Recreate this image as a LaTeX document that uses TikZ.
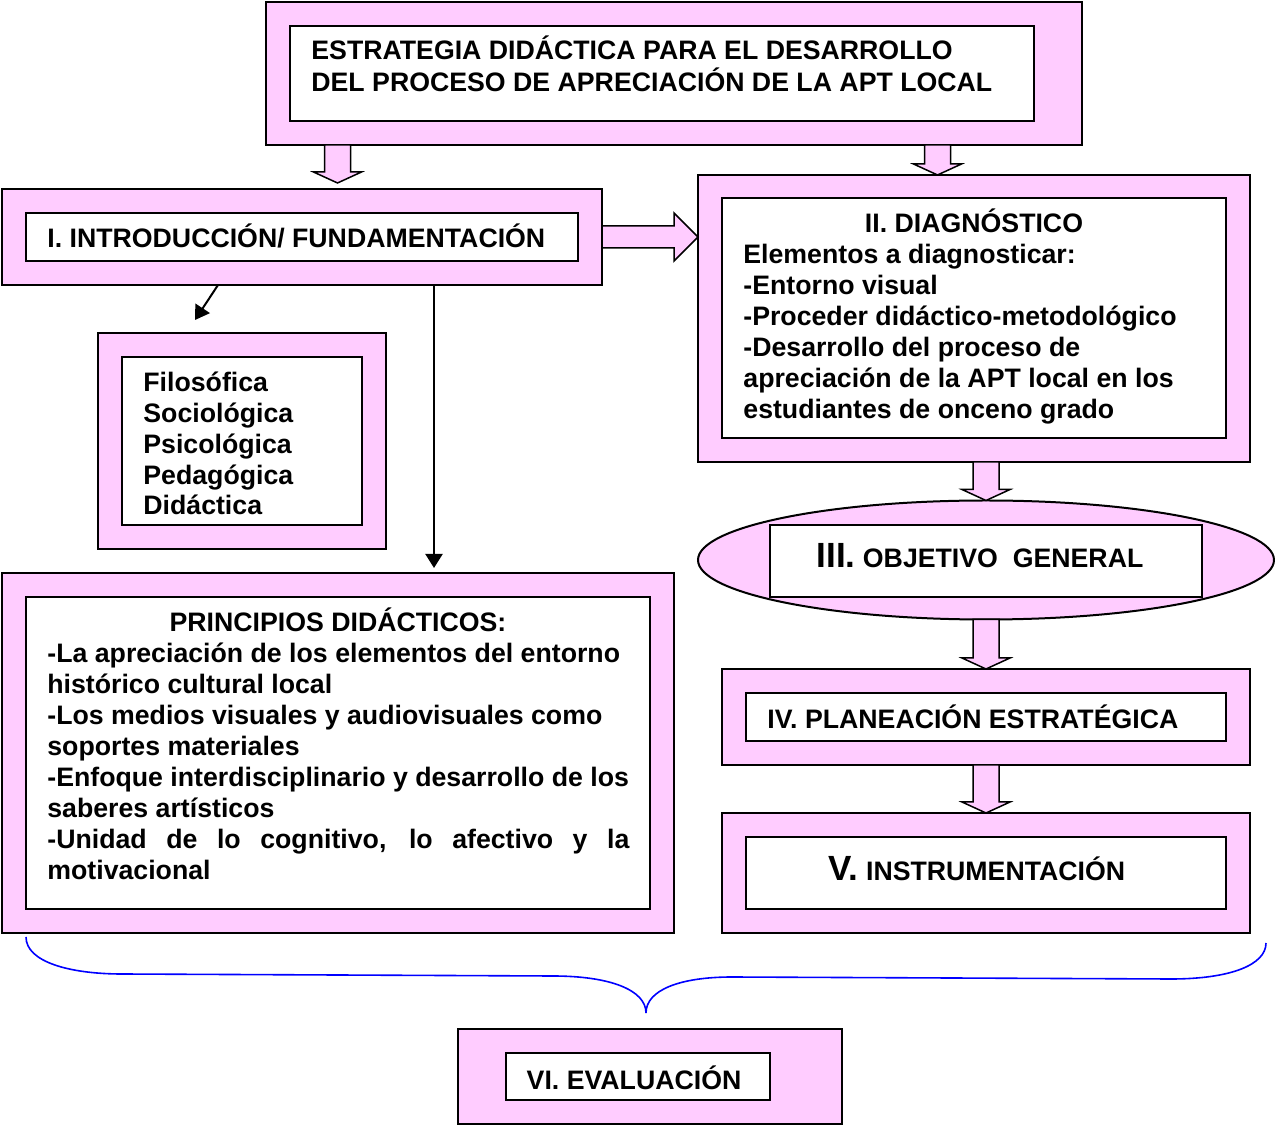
\documentclass[tikz,border=0pt]{standalone}
\usepackage{fontspec}
\setmainfont{Liberation Sans}
\usetikzlibrary{calc,fit,shapes.geometric,arrows.meta}
\definecolor{pinkfill}{RGB}{255,204,255}
\definecolor{bracecolor}{RGB}{0,0,255}
\newcommand{\bignumeral}{\fontsize{17.5}{20}\selectfont}

\begin{document}
\begin{tikzpicture}
[x=0.5pt,y=-0.5pt,
 outerdecorate/.style={draw,line width=1pt,fill=pinkfill,inner sep=0pt,outer sep=0pt},%
 innerdecorate/.style={draw,line width=1pt,fill=white,inner sep=0pt,outer sep=0pt},%
 textdecorate/.style={anchor=base west,inner sep=0pt,font=\fontsize{13.35}{15.5}\selectfont\bfseries},%
 arrowdecorate/.style={line width=1pt,-{Triangle[length=7pt,width=8.5pt]}},%
 bracedecorate/.style={draw=bracecolor,line width=0.8pt},%
 blockdowndecorate/.style={draw,fill=pinkfill,line width=0.75pt,line join=miter,
   to path={let \p1=(\tikztostart), \p2=(\tikztotarget) in
     (\x1-6.5pt,\y1) -- (\x1+6.5pt,\y1) -- (\x1+6.5pt,\y2+5.5pt) -- (\x1+12pt,\y2+5.5pt)
     -- (\x1,\y2) -- (\x1-12pt,\y2+5.5pt) -- (\x1-6.5pt,\y2+5.5pt) -- cycle}},%
 blockrightdecorate/.style={draw,fill=pinkfill,line width=0.75pt,line join=miter,
   to path={let \p1=(\tikztostart), \p2=(\tikztotarget) in
     (\x1,\y1+5.5pt) -- (\x2-12pt,\y1+5.5pt) -- (\x2-12pt,\y1+12pt) -- (\x2,\y1)
     -- (\x2-12pt,\y1-12pt) -- (\x2-12pt,\y1-5.5pt) -- (\x1,\y1-5.5pt) -- cycle}}]
\useasboundingbox (0,0) rectangle (1275,1127);
%% outer boxes
\foreach \name/\xa/\ya/\xb/\yb in {top/266/2/1082/145, intro/2/189/602/285,
  diag/698/175/1250/462, fund/98/333/386/549, princ/2/573/674/933,
  plan/722/669/1250/765, instr/722/813/1250/933, eval/458/1029/842/1124} {
  \node (\name) [outerdecorate, fit={(\xa,\ya) (\xb,\yb)}] {};
}
\node (obj) at (986,560) [ellipse, outerdecorate, minimum width=288pt, minimum height=59.5pt] {};
%% inner boxes
\foreach \name/\xa/\ya/\xb/\yb in {topin/290/26/1034/121, introin/26/213/578/261,
  diagin/722/198/1226/438, fundin/122/357/362/525, princin/26/597/650/909,
  objin/770/525/1202/597, planin/746/693/1226/741, instrin/746/837/1226/909,
  evalin/506/1053/770/1100} {
  \node (\name) [innerdecorate, fit={(\xa,\ya) (\xb,\yb)}] {};
}
%% texts
\foreach \line [count=\i] in {ESTRATEGIA DIDÁCTICA PARA EL DESARROLLO,
  DEL PROCESO DE APRECIACIÓN DE LA APT LOCAL} {
  \node (toptxt\i) [textdecorate] at (311,{28+32*\i}) {\line};
}
\node (introtxt) [textdecorate] at (47,248) {I. INTRODUCCIÓN/ FUNDAMENTACIÓN};
\node (diagtitle) [textdecorate, anchor=base] at (974,233) {II. DIAGNÓSTICO};
\foreach \line [count=\i] in {Elementos a diagnosticar:, -Entorno visual,
  -Proceder didáctico-metodológico, -Desarrollo del proceso de,
  apreciación de la APT local en los, estudiantes de onceno grado} {
  \node (diagtxt\i) [textdecorate] at (743,{233+31*\i}) {\line};
}
\foreach \line [count=\i] in {Filosófica, Sociológica, Psicológica, Pedagógica, Didáctica} {
  \node (fundtxt\i) [textdecorate] at (143,{361.25+30.75*\i}) {\line};
}
\node (princtitle) [textdecorate, anchor=base] at (338,632) {PRINCIPIOS DIDÁCTICOS:};
\foreach \line [count=\i] in {-La apreciación de los elementos del entorno,
  histórico cultural local, -Los medios visuales y audiovisuales como,
  soportes materiales, -Enfoque interdisciplinario y desarrollo de los,
  saberes artísticos, {\makebox[291pt][s]{-Unidad de lo cognitivo, lo afectivo y la}},
  motivacional} {
  \node (princtxt\i) [textdecorate] at (47,{632+31*\i}) {\line};
}
\node (objtxt) [textdecorate, anchor=base] at (980,568) {{\bignumeral III.} OBJETIVO\ \ GENERAL};
\node (plantxt) [textdecorate] at (767,729) {IV. PLANEACIÓN ESTRATÉGICA};
\node (instrtxt) [textdecorate, anchor=base] at (977,881) {{\bignumeral V.} INSTRUMENTACIÓN};
\node (evaltxt) [textdecorate, anchor=base] at (634,1089) {VI. EVALUACIÓN};
%% connectors
\coordinate (ax1) at (337.5,183);
\coordinate (ax2) at (937.5,0);
\coordinate (fundfrom) at (218,0);
\coordinate (fundtip) at (195,320);
\coordinate (ax3) at (434,0);
\draw[blockdowndecorate] (top.south -| ax1) to (ax1);
\draw[blockdowndecorate] (top.south -| ax2) to (diag.north -| ax2);
\draw[blockrightdecorate] (intro.east) to (diag.west |- intro.east);
\draw[blockdowndecorate] (diag.south -| obj.north) to (obj.north);
\draw[blockdowndecorate] (obj.south) to (plan.north -| obj.south);
\draw[blockdowndecorate] (plan.south -| obj.south) to (instr.north -| obj.south);
\draw[arrowdecorate] (intro.south -| fundfrom) -- (fundtip);
\draw[arrowdecorate, shorten >=2.5pt] (intro.south -| ax3) -- (princ.north -| ax3);
%% brace
\coordinate (bl) at (26,937);
\coordinate (bm) at (646,1013);
\coordinate (br) at (1266,943);
\draw[bracedecorate] (bl) .. controls (26,962) and (70,974) .. (122,974) -- (553,976)
  .. controls (610,976) and (646,990) .. (bm)
  .. controls (646,990) and (680,977) .. (732,977) -- (1171,979)
  .. controls (1230,979) and (1266,965) .. (br);
\end{tikzpicture}
\end{document}
